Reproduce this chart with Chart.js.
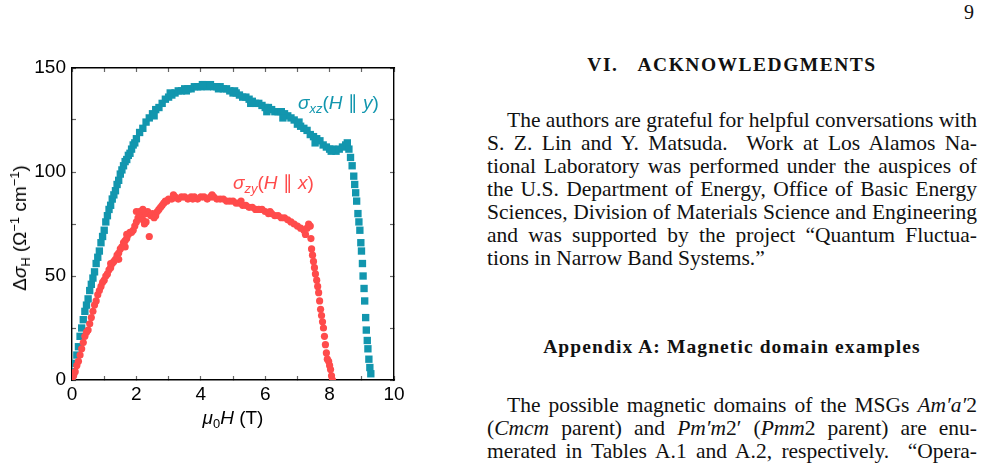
<!DOCTYPE html>
<html>
<head>
<meta charset="utf-8">
<script src="https://cdn.jsdelivr.net/npm/chart.js@4/dist/chart.umd.min.js"></script>
<style>
  html, body { margin: 0; padding: 0; background: #fff; }
  body { width: 984px; height: 466px; position: relative; overflow: hidden; }
  #plotBox { position: absolute; left: 0; top: 40px; width: 420px; height: 400px; }
  .sans { font-family: "Liberation Sans", Arial, sans-serif; font-size: 19px; color: #000; position: absolute; white-space: nowrap; }
  .sans sub, .sans sup { font-size: 0.68em; line-height: 0; position: relative; vertical-align: baseline; }
  .sans sub { top: 0.3em; }
  .sans sup { top: -0.55em; }
  .serif { font-family: "Liberation Serif", "Times New Roman", serif; color: #111; position: absolute; }
  .para { left: 487px; width: 490px; font-size: 21.5px; line-height: 23px; }
  .para div { text-align: justify; text-align-last: justify; white-space: nowrap; }
  .para div.last { text-align-last: left; }
  .para div.ind { padding-left: 20px; }
  h2 { margin: 0; font-weight: bold; font-size: 19.5px; }
</style>
</head>
<body>
<div id="plotBox"><canvas id="hallChart"></canvas></div>

<div class="sans" style="left:20px;top:228px;transform:translate(-50%,-50%) rotate(-90deg);">&Delta;<i>&sigma;</i><sub>H</sub> (&Omega;<sup>&minus;1</sup> cm<sup>&minus;1</sup>)</div>
<div class="sans" style="left:233px;top:418px;transform:translate(-50%,-50%);"><i>&mu;</i><sub>0</sub><i>H</i> (T)</div>
<div class="sans" style="left:298px;top:91px;color:#1296ae;"><i>&sigma;<sub>xz</sub></i>(<i>H</i> &#8741; <i>y</i>)</div>
<div class="sans" style="left:233px;top:171px;color:#ff4b4b;"><i>&sigma;<sub>zy</sub></i>(<i>H</i> &#8741; <i>x</i>)</div>

<div class="serif" style="left:964px;top:1px;font-size:20px;">9</div>
<h2 class="serif" style="left:487px;width:490px;top:54px;text-align:center;letter-spacing:1.5px;">VI.&nbsp;&nbsp;&nbsp;ACKNOWLEDGMENTS</h2>
<div class="serif para" style="top:109px;">
  <div class="ind">The authors are grateful for helpful conversations with</div>
  <div>S. Z. Lin and Y. Matsuda.&nbsp; Work at Los Alamos Na-</div>
  <div>tional Laboratory was performed under the auspices of</div>
  <div>the U.S. Department of Energy, Office of Basic Energy</div>
  <div>Sciences, Division of Materials Science and Engineering</div>
  <div>and was supported by the project &ldquo;Quantum Fluctua-</div>
  <div class="last">tions in Narrow Band Systems.&rdquo;</div>
</div>
<h2 class="serif" style="left:487px;width:490px;top:336px;text-align:center;letter-spacing:1.1px;">Appendix A: Magnetic domain examples</h2>
<div class="serif para" style="top:394px;">
  <div class="ind">The possible magnetic domains of the MSGs <i>Am&prime;a&prime;</i>2</div>
  <div>(<i>Cmcm</i> parent) and <i>Pm&prime;m</i>2&prime; (<i>Pmm</i>2 parent) are enu-</div>
  <div>merated in Tables A.1 and A.2, respectively.&nbsp; &ldquo;Opera-</div>
  <div>tions&rdquo; are the symmetry operations relating the domains</div>
</div>

<script>
// sigma_xz (H || y), blue squares
const blueH = [0, 0.05, 0.1, 0.15, 0.2, 0.25, 0.3, 0.35, 0.4, 0.45, 0.5, 0.55, 0.6, 0.65, 0.7, 0.75, 0.8, 0.85, 0.9, 0.95,
  1.0, 1.05, 1.1, 1.15, 1.2, 1.25, 1.3, 1.35, 1.4, 1.45, 1.5, 1.55, 1.6, 1.65, 1.7, 1.75, 1.8, 1.85, 1.9, 1.95,
  2.0, 2.1, 2.2, 2.3, 2.4, 2.5, 2.6, 2.7, 2.8, 2.9, 3.0, 3.1, 3.2, 3.3, 3.4, 3.5, 3.6, 3.7, 3.8, 3.9,
  4.0, 4.1, 4.2, 4.3, 4.4, 4.5, 4.6, 4.7, 4.8, 4.9, 5.0, 5.1, 5.2, 5.3, 5.4, 5.5, 5.6, 5.7, 5.8, 5.9,
  6.0, 6.1, 6.2, 6.3, 6.4, 6.5, 6.6, 6.7, 6.8, 6.9, 7.0, 7.1, 7.2, 7.3, 7.4, 7.5, 7.6, 7.7, 7.8, 7.9,
  8.0, 8.1, 8.2, 8.3, 8.4, 8.5, 8.55, 8.6, 8.65, 8.7, 8.75, 8.78, 8.81, 8.84, 8.88, 8.91, 8.94, 8.97, 8.99,
  9.02, 9.04, 9.07, 9.09, 9.12, 9.14, 9.17, 9.19, 9.22, 9.25, 9.28,
  2.55, 3.05, 3.55, 4.05, 4.55, 5.05, 5.55, 6.05, 6.55, 7.05, 7.55, 8.05];
const blueS = [0, 4, 8, 12, 16, 21, 25, 29, 33, 36, 39, 43, 46, 49, 52, 56, 59, 62, 66, 69,
  72, 76, 79, 82, 84, 87, 89, 91, 94, 96, 99, 101, 103, 105, 106, 108, 109, 111, 113, 114,
  116, 119, 121, 124, 126, 128, 130, 131, 133, 135, 136, 137, 138, 139, 139, 140, 140, 140, 141, 141,
  141, 142, 141, 142, 141, 141, 141, 140, 140, 139, 138, 138, 137, 136, 136, 135, 134, 133, 133, 132,
  131, 131, 130, 129, 129, 129, 128, 127, 126, 125, 123, 122, 121, 120, 118, 117, 116, 115, 113, 112,
  111, 111, 110, 111, 112, 113, 114, 111, 107, 103, 98, 94, 90, 86, 80, 76, 72, 66, 62,
  56, 50, 44, 38, 30, 24, 19, 15, 10, 6, 3,
  127, 138, 139, 142, 140, 139, 133, 129, 126, 124, 114, 110];

// sigma_zy (H || x), red circles
const redH = [0, 0.05, 0.1, 0.15, 0.2, 0.25, 0.3, 0.35, 0.4, 0.45, 0.5, 0.55, 0.6, 0.65, 0.7, 0.75, 0.8, 0.85, 0.9, 0.95,
  1.0, 1.05, 1.1, 1.15, 1.2, 1.25, 1.3, 1.35, 1.4, 1.45, 1.5, 1.55, 1.6, 1.65, 1.7, 1.75, 1.8, 1.85, 1.9, 1.95,
  2.0, 2.05, 2.1, 2.15, 2.2, 2.25, 2.3, 2.35, 2.4, 2.45, 2.5, 2.55, 2.6, 2.65, 2.7, 2.75, 2.8, 2.85, 2.9, 2.95,
  3.0, 3.1, 3.2, 3.3, 3.4, 3.5, 3.6, 3.7, 3.8, 3.9, 4.0, 4.1, 4.2, 4.3, 4.4, 4.5, 4.6, 4.7, 4.8, 4.9,
  5.0, 5.1, 5.2, 5.3, 5.4, 5.5, 5.6, 5.7, 5.8, 5.9, 6.0, 6.1, 6.2, 6.3, 6.4, 6.5, 6.6, 6.7, 6.8, 6.9,
  7.0, 7.1, 7.2, 7.25, 7.3, 7.35, 7.4, 7.42, 7.44, 7.47, 7.5, 7.53, 7.56, 7.6, 7.63, 7.66, 7.69, 7.72, 7.75,
  7.78, 7.81, 7.84, 7.87, 7.9, 7.93, 7.97, 8.0, 8.03, 8.06, 8.09,
  1.65, 1.7, 2.0, 2.1, 2.2, 2.3, 1.2, 1.45, 3.15, 3.75, 4.35, 5.25, 6.15];
const redS = [0, 2, 4, 7, 9, 12, 15, 18, 21, 23, 24, 27, 30, 33, 36, 38, 41, 43, 45, 47,
  48, 50, 51, 53, 54, 56, 57, 58, 60, 61, 63, 64, 66, 67, 68, 70, 71, 71, 72, 74,
  76, 78, 79, 79, 77, 75, 80, 81, 69, 79, 80, 78, 79, 81, 82, 83, 84, 85, 86, 86,
  87, 87, 88, 87, 88, 88, 87, 88, 88, 87, 88, 88, 87, 88, 88, 87, 87, 87, 86, 86,
  86, 85, 85, 84, 84, 83, 83, 82, 82, 82, 81, 80, 80, 79, 79, 78, 78, 77, 76, 75,
  74, 73, 72, 70, 73, 75, 74, 68, 63, 60, 57, 54, 51, 48, 45, 42, 38, 34, 31,
  28, 25, 21, 17, 13, 10, 9, 7, 5, 2, 0,
  64, 70, 81, 81, 82, 76, 56, 58, 89, 87, 89, 86, 81];

const xTicks = [0, 2, 4, 6, 8, 10];
const yTicks = [0, 50, 100, 150];

const blueColor = '#1296ae';
const redColor = '#ff4b4b';

const toPoints = (xs, ys) => xs.map((x, i) => ({ x: x, y: ys[i] }));

const tickFont = { family: '"Liberation Sans", Arial, sans-serif', size: 19 };

function frameAxis(pos, labelled, major) {
    const vertical = pos === 'left' || pos === 'right';
    return {
        type: 'linear',
        position: pos,
        min: 0,
        max: vertical ? 150 : 10,
        grid: {
            drawOnChartArea: false,
            drawTicks: true,
            tickLength: -4,
            tickColor: '#666',
            tickWidth: 1.2,
        },
        border: { display: true, color: '#000', width: 1.4 },
        ticks: {
            display: labelled,
            stepSize: vertical ? 25 : 1,
            color: '#000',
            font: tickFont,
            padding: pos === 'left' ? 10 : 7,
            maxRotation: 0,
            autoSkip: false,
            callback: v => major.includes(v) ? String(v) : '',
        },
        afterFit: scale => {
            if (pos === 'left') scale.width = 72;
            else if (pos === 'bottom') scale.height = 60;
            else if (pos === 'right') scale.width = 0;
            else scale.height = 0;
        },
    };
}

new Chart(document.getElementById('hallChart'), {
    type: 'scatter',
    data: {
        datasets: [
            {
                label: 'sigma_zy',
                data: toPoints(redH, redS),
                pointStyle: 'circle',
                pointRadius: 3.6,
                backgroundColor: redColor,
                borderColor: redColor,
                borderWidth: 0,
            },
            {
                label: 'sigma_xz',
                data: toPoints(blueH, blueS),
                pointStyle: 'rect',
                pointRadius: 5.2,
                backgroundColor: blueColor,
                borderColor: blueColor,
                borderWidth: 0,
            },
        ],
    },
    options: {
        responsive: true, maintainAspectRatio: false,
        animation: false,
        layout: { padding: { top: 28, right: 26, bottom: 0, left: 0 } },
        plugins: { legend: { display: false }, tooltip: { enabled: false } },
        scales: {
            x: frameAxis('bottom', true, xTicks),
            y: frameAxis('left', true, yTicks),
            x2: frameAxis('top', false, xTicks),
            y2: frameAxis('right', false, yTicks),
        },
    },
});
</script>
</body>
</html>
